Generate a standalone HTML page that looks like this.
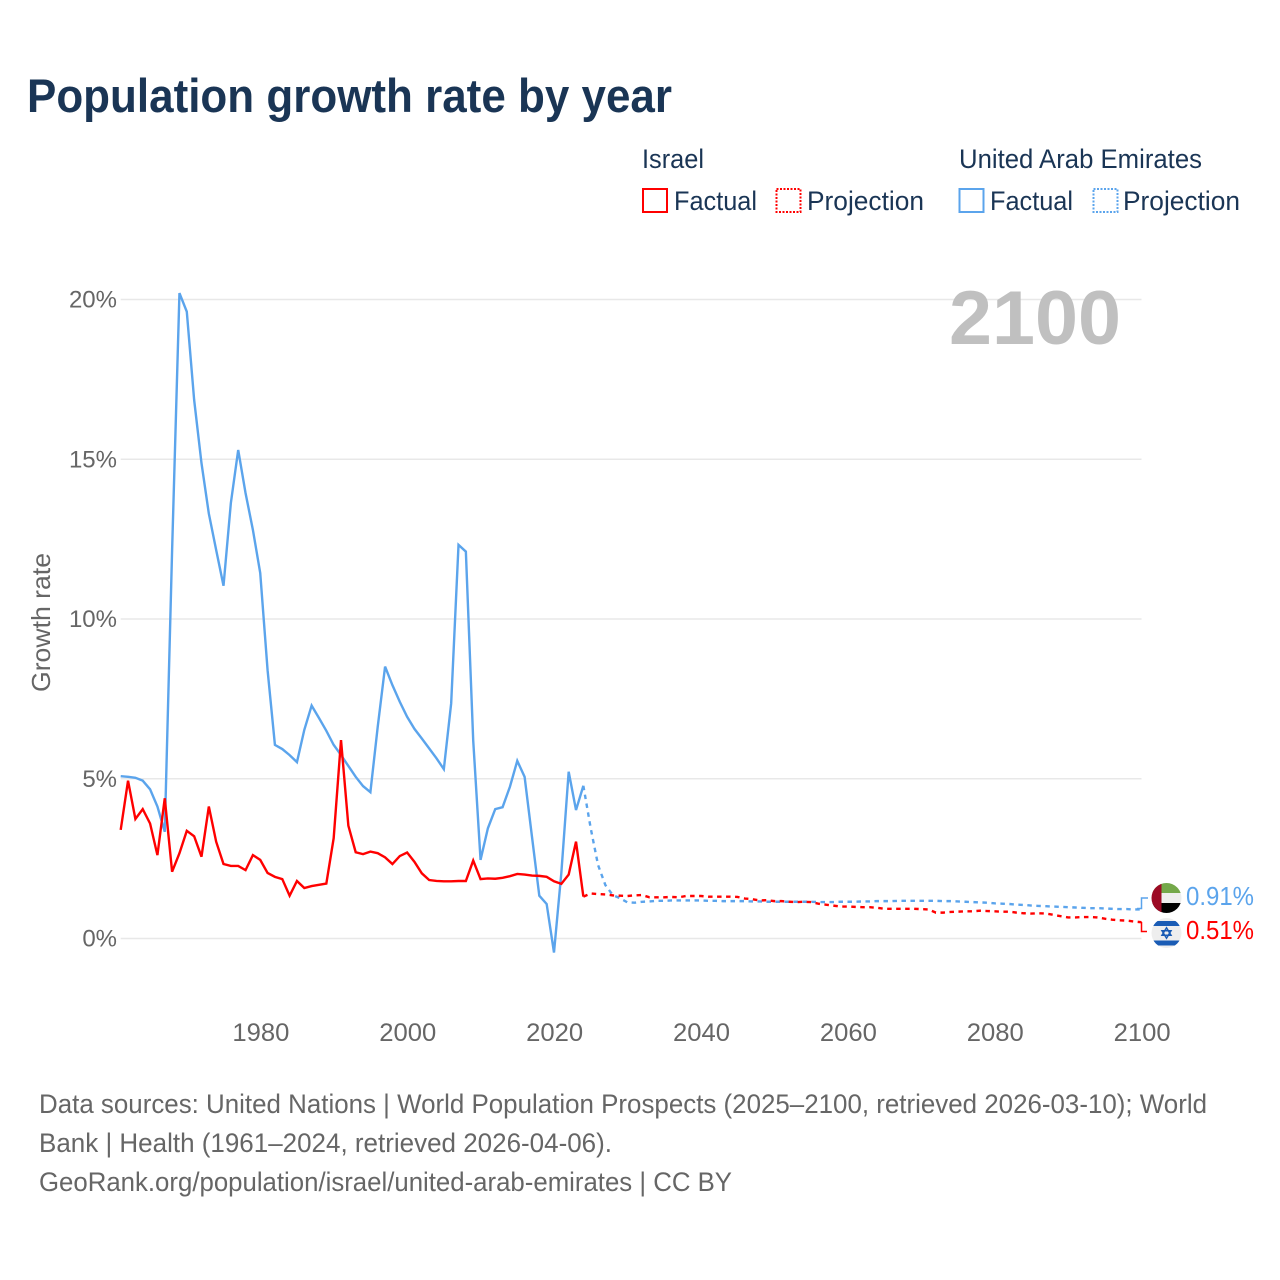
<!DOCTYPE html>
<html lang="en">
<head>
<meta charset="utf-8">
<title>Population growth rate by year</title>
<style>
html,body{margin:0;padding:0;background:#fff;width:1280px;height:1280px;overflow:hidden}
svg{display:block}
text{font-family:"Liberation Sans",sans-serif}
</style>
</head>
<body>
<svg id="chart" xmlns="http://www.w3.org/2000/svg" width="1280" height="1280" viewBox="0 0 1280 1280">
  <defs>
    <clipPath id="clip-uae"><circle cx="1166.5" cy="898" r="15"/></clipPath>
    <clipPath id="clip-il"><circle cx="1166.5" cy="933" r="15"/></clipPath>
  </defs>
  <text x="27" y="112" font-size="47" font-weight="700" fill="#1a3555" textLength="645" lengthAdjust="spacingAndGlyphs">Population growth rate by year</text>

  <g font-size="26.5" fill="#1a3555">
    <text x="642" y="168" textLength="62" lengthAdjust="spacingAndGlyphs">Israel</text>
    <rect x="643" y="189" width="24" height="23" fill="none" stroke="#ff0000" stroke-width="2"/>
    <text x="674" y="210" textLength="83" lengthAdjust="spacingAndGlyphs">Factual</text>
    <rect x="776.5" y="189" width="24" height="23" fill="none" stroke="#ff0000" stroke-width="2" stroke-dasharray="2 1.5"/>
    <text x="807" y="210" textLength="117" lengthAdjust="spacingAndGlyphs">Projection</text>
    <text x="959" y="168" textLength="243" lengthAdjust="spacingAndGlyphs">United Arab Emirates</text>
    <rect x="959.5" y="189" width="24" height="23" fill="none" stroke="#5ba4ec" stroke-width="2"/>
    <text x="990" y="210" textLength="83" lengthAdjust="spacingAndGlyphs">Factual</text>
    <rect x="1093.5" y="189" width="24" height="23" fill="none" stroke="#5ba4ec" stroke-width="2" stroke-dasharray="2 1.5"/>
    <text x="1123" y="210" textLength="117" lengthAdjust="spacingAndGlyphs">Projection</text>
  </g>

  <g id="grid"></g>
  <text id="year-label" x="949" y="344" font-size="76" font-weight="700" fill="#c0c0c0" textLength="172" lengthAdjust="spacingAndGlyphs">2100</text>
  <g id="y-ticks" font-size="24" fill="#666666" text-anchor="end"></g>
  <g id="x-ticks" font-size="25" fill="#666666" text-anchor="middle"></g>
  <text transform="translate(50,692) rotate(-90)" font-size="26" fill="#666666" textLength="139" lengthAdjust="spacingAndGlyphs">Growth rate</text>

  <g id="series" fill="none" stroke-width="2.4"></g>

  <g fill="none" stroke-width="1.5">
    <path d="M1137 908.5H1141.5V898H1148" stroke="#5ba4ec"/>
    <path d="M1141.5 922V931.5H1147" stroke="#ff0000"/>
  </g>

  <g clip-path="url(#clip-uae)">
    <rect x="1151" y="883" width="31" height="10" fill="#74a84a"/>
    <rect x="1151" y="893" width="31" height="10" fill="#eeeeee"/>
    <rect x="1151" y="903" width="31" height="10" fill="#000000"/>
    <rect x="1151" y="883" width="10.5" height="30" fill="#9c0a24"/>
  </g>
  <g clip-path="url(#clip-il)">
    <rect x="1151" y="918" width="31" height="30" fill="#eeeeee"/>
    <rect x="1151" y="921" width="31" height="5" fill="#1a5cb5"/>
    <rect x="1151" y="940.5" width="31" height="5" fill="#1a5cb5"/>
    <path d="M1166.5 927.8L1171 935.3H1162Z M1166.5 938.2L1171 930.7H1162Z" fill="none" stroke="#1a5cb5" stroke-width="1.5"/>
  </g>

  <text id="uae-end-label" x="1186" y="905" font-size="26" fill="#5ba4ec" textLength="68" lengthAdjust="spacingAndGlyphs"></text>
  <text id="israel-end-label" x="1186" y="939" font-size="26" fill="#ff0000" textLength="68" lengthAdjust="spacingAndGlyphs"></text>

  <g font-size="26.5" fill="#666666">
    <text x="39" y="1113" textLength="1168" lengthAdjust="spacingAndGlyphs">Data sources: United Nations | World Population Prospects (2025–2100, retrieved 2026-03-10); World</text>
    <text x="39" y="1152" textLength="573" lengthAdjust="spacingAndGlyphs">Bank | Health (1961–2024, retrieved 2026-04-06).</text>
    <text x="39" y="1191" textLength="693" lengthAdjust="spacingAndGlyphs">GeoRank.org/population/israel/united-arab-emirates | CC BY</text>
  </g>
</svg>
<script>
const xTickYears = [1980, 2000, 2020, 2040, 2060, 2080, 2100];
const yTickValues = [0, 5, 10, 15, 20];
const factualStartYear = 1961;
const projectionStartYear = 2024;

const israelFactual = [
  3.40,4.94,3.74,4.05,3.60,2.61,4.39,2.09,2.67,3.37,
  3.20,2.56,4.13,3.03,2.33,2.27,2.27,2.14,2.61,2.46,
  2.05,1.93,1.86,1.34,1.80,1.58,1.64,1.68,1.72,3.14,
  6.21,3.53,2.70,2.64,2.72,2.67,2.54,2.33,2.58,2.69,
  2.40,2.04,1.83,1.80,1.79,1.79,1.80,1.80,2.44,1.86,
  1.88,1.87,1.90,1.95,2.02,2.00,1.97,1.96,1.93,1.79,
  1.71,2.00,3.03,1.31
];
const israelProjection = [
  1.31,1.41,1.39,1.38,1.35,1.34,1.33,
  1.35,1.36,1.29,1.29,1.29,1.30,1.29,1.33,1.33,1.33,
  1.31,1.31,1.31,1.31,1.30,1.25,1.23,1.19,1.20,1.17,
  1.17,1.15,1.14,1.15,1.14,1.09,1.06,1.03,1.00,1.00,
  0.99,0.98,0.98,0.96,0.93,0.93,0.93,0.93,0.93,0.92,
  0.91,0.81,0.81,0.83,0.84,0.85,0.85,0.87,0.86,0.85,
  0.84,0.84,0.81,0.79,0.78,0.79,0.78,0.74,0.70,0.66,
  0.66,0.67,0.67,0.66,0.62,0.59,0.57,0.56,0.53,0.51
];
const uaeFactual = [
  5.08,5.06,5.03,4.94,4.67,4.13,3.34,12.16,20.20,19.62,
  16.86,14.88,13.30,12.16,11.04,13.63,15.29,13.94,12.79,11.44,
  8.40,6.06,5.93,5.74,5.52,6.53,7.29,6.90,6.50,6.06,
  5.74,5.40,5.06,4.77,4.58,6.63,8.51,7.93,7.41,6.94,
  6.56,6.26,5.95,5.64,5.30,7.36,12.32,12.11,6.20,2.46,
  3.45,4.05,4.11,4.75,5.56,5.06,3.19,1.34,1.08,-0.44,
  2.05,5.22,4.02,4.78
];
const uaeProjection = [
  4.78,3.45,2.30,1.67,1.36,1.26,1.13,
  1.12,1.15,1.16,1.18,1.18,1.19,1.19,1.19,1.19,1.19,
  1.18,1.18,1.17,1.17,1.17,1.17,1.16,1.16,1.15,1.15,
  1.15,1.15,1.15,1.15,1.15,1.14,1.14,1.14,1.15,1.15,
  1.15,1.16,1.16,1.17,1.17,1.17,1.18,1.18,1.18,1.18,
  1.18,1.18,1.17,1.17,1.16,1.15,1.14,1.13,1.12,1.10,
  1.09,1.08,1.06,1.05,1.03,1.02,1.01,1.00,0.99,0.98,
  0.97,0.96,0.95,0.95,0.94,0.93,0.92,0.92,0.91,0.91
];

const SVG_NS = 'http://www.w3.org/2000/svg';
function xScale(year) { return 120.7 + (year - 1961) * (1020.8 / 139); }
function yScale(value) { return 938.5 - value * (639 / 20); }
function pathFor(values, startYear) {
  return values.map(function (v, i) {
    return (i ? 'L' : 'M') + xScale(startYear + i).toFixed(2) + ' ' + yScale(v).toFixed(2);
  }).join('');
}

const gridGroup = document.getElementById('grid');
const yTickGroup = document.getElementById('y-ticks');
const xTickGroup = document.getElementById('x-ticks');
const seriesGroup = document.getElementById('series');

yTickValues.forEach(function (v) {
  const line = document.createElementNS(SVG_NS, 'line');
  
  
  line.setAttribute('x1', xScale(1961));
  line.setAttribute('x2', xScale(2100));
  line.setAttribute('y1', yScale(v));
  line.setAttribute('y2', yScale(v));
  line.setAttribute('stroke', '#e8e8e8');
  line.setAttribute('stroke-width', '1.5');
  gridGroup.appendChild(line);

  const label = document.createElementNS(SVG_NS, 'text');
  
  
  label.setAttribute('x', 117);
  label.setAttribute('y', yScale(v) + 8);
  label.textContent = v + '%';
  yTickGroup.appendChild(label);
});

xTickYears.forEach(function (year) {
  const label = document.createElementNS(SVG_NS, 'text');
  
  
  label.setAttribute('x', xScale(year) + 0.7);
  label.setAttribute('y', 1041);
  label.setAttribute('textLength', '57');
  label.setAttribute('lengthAdjust', 'spacingAndGlyphs');
  label.textContent = String(year);
  xTickGroup.appendChild(label);
});

function addSeries(values, startYear, color, dashed, name) {
  const path = document.createElementNS(SVG_NS, 'path');
  
  
  path.setAttribute('d', pathFor(values, startYear));
  path.setAttribute('stroke', color);
  path.setAttribute('stroke-linejoin', 'miter');
  path.setAttribute('stroke-miterlimit', '3');
  if (dashed) path.setAttribute('stroke-dasharray', '4.5 4.5');
  seriesGroup.appendChild(path);
}

addSeries(uaeFactual, factualStartYear, '#5ba4ec', false, 'uae-factual-line');
addSeries(uaeProjection, projectionStartYear, '#5ba4ec', true, 'uae-projection-line');
addSeries(israelFactual, factualStartYear, '#ff0000', false, 'israel-factual-line');
addSeries(israelProjection, projectionStartYear, '#ff0000', true, 'israel-projection-line');

document.getElementById('uae-end-label').textContent = uaeProjection[uaeProjection.length - 1].toFixed(2) + '%';
document.getElementById('israel-end-label').textContent = israelProjection[israelProjection.length - 1].toFixed(2) + '%';
</script>
</body>
</html>
